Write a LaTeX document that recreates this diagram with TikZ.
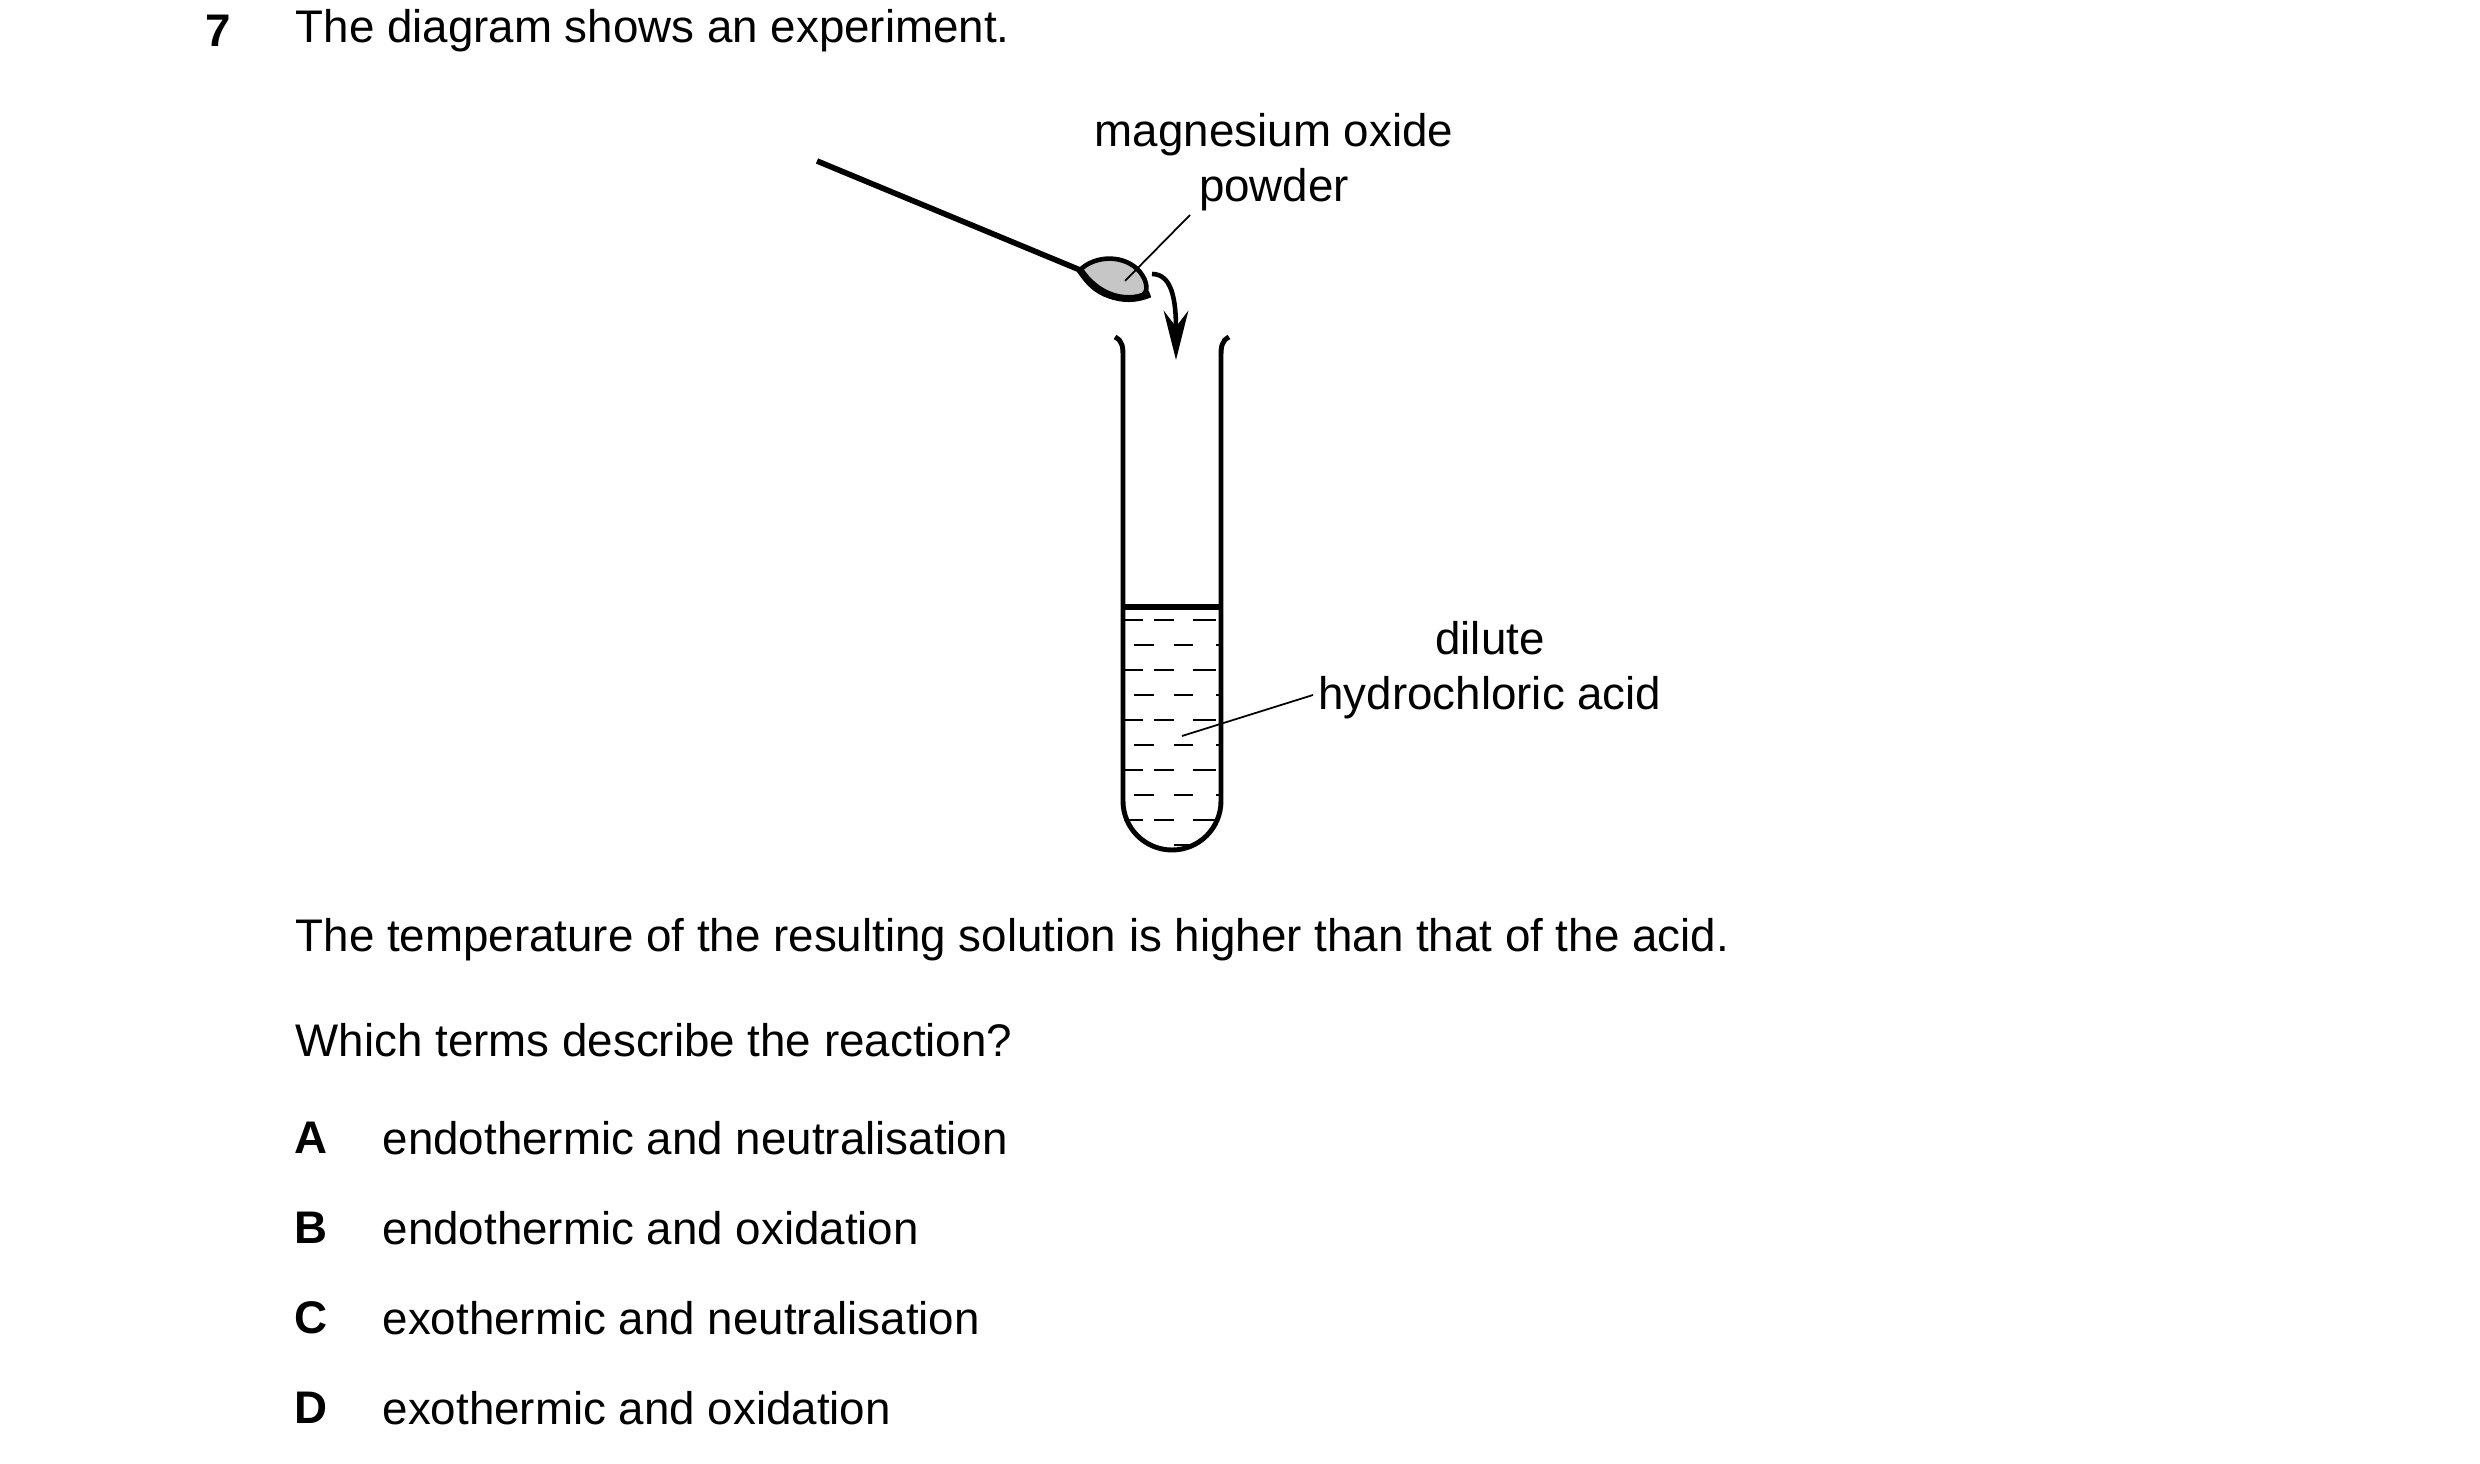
\documentclass[tikz,border=0pt]{standalone}
\usepackage{fontspec}
\setmainfont{Liberation Sans}
\usetikzlibrary{arrows.meta}

\begin{document}
\begin{tikzpicture}[x=0.01cm, y=-0.01cm, font=\fontsize{13}{15.7}\selectfont]

\tikzset{
  txt/.style={anchor=west, inner sep=0pt},
  lbl/.style={align=center, inner sep=1pt},
  wall/.style={line width=1.4pt},
  lead/.style={line width=0.5pt}
}

\useasboundingbox (0,0) rectangle (2480,1464);

% question text
\node[font=\fontsize{13}{15}\selectfont\bfseries] (num) at (218,31) {7};
\node[txt] (q) at (295,31) {The diagram shows an experiment.};

% spatula
\draw[line width=1.6pt] (817,161) -- (1080,270);
\draw[line width=1.3pt, fill=gray!45] (1080,270) .. controls (1095,255) and (1125,254) .. (1140,272)
  .. controls (1148,282) and (1148,292) .. (1143,295)
  .. controls (1115,305) and (1090,292) .. (1080,270) -- cycle;
\draw[line width=2pt] (1080,270) .. controls (1095,293) and (1122,306) .. (1150,294);

% arrow into tube
\coordinate (ds) at (1152,274);
\coordinate (de) at (1176,360);
\draw[line width=1.3pt, -{Stealth[length=14pt, width=7pt]}] (ds) .. controls (1172,274) and (1176,300) .. (de);

% test tube
\draw[wall] (1115,337) .. controls (1123,341) and (1123,348) .. (1123,357)
  -- (1123,801) arc (180:0:49) -- (1221,357)
  .. controls (1221,348) and (1221,341) .. (1229,337);
\draw[line width=1.8pt] (1123,607) -- (1221,607);

% liquid
\foreach \i in {0,2,...,8} {
  \draw[lead] (1124,620+25*\i) -- (1143,620+25*\i);
  \draw[lead] (1154,620+25*\i) -- (1174,620+25*\i);
  \draw[lead] (1193,620+25*\i) -- (1216,620+25*\i);
}
\foreach \i in {1,3,...,7} {
  \draw[lead] (1134,620+25*\i) -- (1154,620+25*\i);
  \draw[lead] (1174,620+25*\i) -- (1193,620+25*\i);
  \draw[lead] (1216,620+25*\i) -- (1220,620+25*\i);
}
\draw[lead] (1174,845) -- (1193,845);

% labels
\node[lbl] (mgo) at (1274,162) {magnesium oxide\\powder};
\coordinate (mgoend) at (1125,281);
\draw[lead] (1190,215) -- (mgoend);

\node[lbl] (acid) at (1490,670) {dilute\\hydrochloric acid};
\coordinate (acidend) at (1182,736);
\draw[lead] (1313,695) -- (acidend);

% question
\node[txt] (temp) at (295,940) {The temperature of the resulting solution is higher than that of the acid.};
\node[txt] (which) at (295,1040) {Which terms describe the reaction?};

\foreach \l/\t/\y in {A/endothermic and neutralisation/1138,
                      B/endothermic and oxidation/1228,
                      C/exothermic and neutralisation/1318,
                      D/exothermic and oxidation/1408} {
  \node[font=\fontsize{13}{15}\selectfont\bfseries] (opt\l) at (311,\y) {\l};
  \node[txt] (txt\l) at (382,\y) {\t};
}

\end{tikzpicture}
\end{document}
